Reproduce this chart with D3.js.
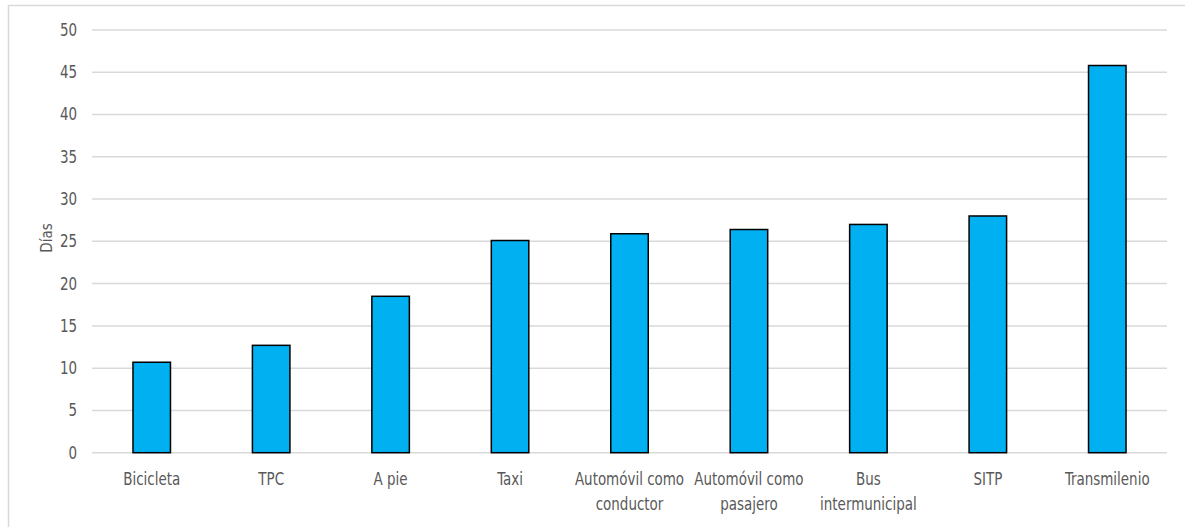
<!DOCTYPE html>
<html>
<head>
<meta charset="utf-8">
<script src="https://cdn.jsdelivr.net/npm/d3@7"></script>
<style>
  html, body { margin: 0; padding: 0; background: #fff; }
  svg text { font-family: "DejaVu Sans Condensed", "Liberation Sans", sans-serif; }
</style>
</head>
<body>
<svg id="chart" width="1185" height="527"></svg>
<script>
const categories = [
  ["Bicicleta"],
  ["TPC"],
  ["A pie"],
  ["Taxi"],
  ["Automóvil como", "conductor"],
  ["Automóvil como", "pasajero"],
  ["Bus", "intermunicipal"],
  ["SITP"],
  ["Transmilenio"]
];
const values = [10.7, 12.7, 18.5, 25.1, 25.9, 26.4, 27.0, 28.0, 45.8];
const yTicks = [0, 5, 10, 15, 20, 25, 30, 35, 40, 45, 50];
const yTitle = "Días";

const svg = d3.select("#chart");
const W = 1185, H = 527;
const mLeft = 92, mRight = 1167, mTop = 30, mBottom = 452.7;
const FONT = '"DejaVu Sans Condensed", "Liberation Sans", sans-serif';

// outer border (right and bottom cut off)
svg.append("rect").attr("x", 8.5).attr("y", 5.5).attr("width", W + 10).attr("height", H + 10)
  .attr("fill", "none").attr("stroke", "#d9d9d9").attr("stroke-width", 1.5);

const keys = categories.map(c => c.join(" "));
const x = d3.scaleBand().domain(keys).range([mLeft, mRight]).paddingInner(0.686).paddingOuter(0.343);
const y = d3.scaleLinear().domain([0, 50]).range([mBottom, mTop]);

// gridlines
svg.append("g").selectAll("line").data(yTicks).join("line")
  .attr("x1", mLeft).attr("x2", mRight)
  .attr("y1", d => y(d)).attr("y2", d => y(d))
  .attr("stroke", "#d9d9d9").attr("stroke-width", 1.5);

// y axis labels
const yAxis = d3.axisLeft(y).tickValues(yTicks).tickSize(0).tickPadding(0);
const gy = svg.append("g").attr("transform", `translate(${mLeft - 15},0)`).call(yAxis);
gy.select(".domain").remove();
gy.selectAll("text").attr("fill", "#595959").style("font-size", "17px")
  .style("font-family", FONT).attr("transform", "scale(0.88,1)");

// bars
svg.append("g").selectAll("rect").data(values).join("rect")
  .attr("x", (d, i) => x(keys[i]))
  .attr("y", d => y(d))
  .attr("width", x.bandwidth())
  .attr("height", d => mBottom - y(d))
  .attr("fill", "#00b0f0")
  .attr("stroke", "#000").attr("stroke-width", 1.5);

// x axis labels
const xAxis = d3.axisBottom(x).tickSize(0).tickFormat(() => "");
const gx = svg.append("g").attr("transform", `translate(0,${mBottom})`).call(xAxis);
gx.select(".domain").remove();
gx.selectAll(".tick").each(function(d, i) {
  const t = d3.select(this).append("text")
    .attr("text-anchor", "middle").attr("fill", "#595959")
    .attr("transform", "scale(0.88,1)")
    .style("font-size", "17px")
    .style("font-family", FONT);
  categories[i].forEach((line, j) => {
    t.append("tspan").attr("x", 0).attr("y", 32 + j * 25).text(line);
  });
});

// y title
svg.append("text").attr("transform", `translate(52,238) rotate(-90)`)
  .attr("text-anchor", "middle").attr("fill", "#595959")
  .style("font-size", "15px").style("font-family", FONT).text(yTitle);
</script>
</body>
</html>
